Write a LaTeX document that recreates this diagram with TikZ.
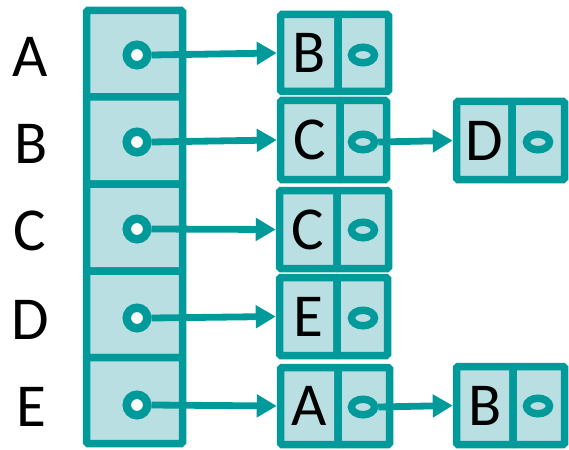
\documentclass[tikz,border=0pt]{standalone}
\usepackage{fontspec}
\setmainfont{Carlito}
\usetikzlibrary{arrows.meta,shapes.geometric}
\definecolor{edge}{HTML}{009A9A}
\definecolor{cellfill}{HTML}{BADFE2}
\begin{document}
\begin{tikzpicture}[x=1pt,y=-1pt,
  cell/.style={draw=edge,fill=cellfill,line width=7.5pt,rounded corners=1.5pt,
    inner sep=0pt,font=\fontsize{61}{63}\selectfont},
  dot/.style={circle,draw=edge,fill=white,line width=8.5pt,minimum size=20.5pt,inner sep=0pt},
  odot/.style={ellipse,draw=edge,line width=7.5pt,minimum width=23pt,minimum height=15.5pt,inner sep=0pt},
  link/.style={draw=edge,line width=6.8pt,-{Triangle[length=20pt,width=22pt]}},
  lbl/.style={font=\fontsize{61}{63}\selectfont}]
\useasboundingbox (0,0) rectangle (569,449);

% index column
\node[cell,minimum width=96pt,minimum height=86.5pt] (a1) at (134.5,53.75) {};
\node[cell,minimum width=96pt,minimum height=87pt] (a2) at (134.5,140.5) {};
\node[cell,minimum width=96pt,minimum height=87pt] (a3) at (134.5,227.5) {};
\node[cell,minimum width=96pt,minimum height=86.5pt] (a4) at (134.5,314.25) {};
\node[cell,minimum width=96pt,minimum height=86pt] (a5) at (134.5,400.5) {};

% row labels
\node[lbl] (lA) at (30,57) {A};
\node[lbl] (lB) at (31,144) {B};
\node[lbl] (lC) at (30,231) {C};
\node[lbl] (lD) at (30,320) {D};
\node[lbl] (lE) at (31,407) {E};

% pointer dots in the index column
\node[dot] (c1) at (137,55) {};
\node[dot] (c2) at (137,142) {};
\node[dot] (c3) at (137,229) {};
\node[dot] (c4) at (137,318) {};
\node[dot] (c5) at (137,405) {};

% list entries: key cell + pointer cell
\node[cell,minimum width=57.5pt,minimum height=77pt] (k1) at (309.25,53) {B};
\node[cell,minimum width=50.5pt,minimum height=77pt] (p1) at (363.25,53) {};
\node[cell,minimum width=59.5pt,minimum height=79pt] (k2) at (310.25,140) {C};
\node[cell,minimum width=46.5pt,minimum height=79pt] (p2) at (363.25,140) {};
\node[cell,minimum width=57.5pt,minimum height=78pt] (k3) at (308.25,229.5) {C};
\node[cell,minimum width=51.5pt,minimum height=78pt] (p3) at (362.75,229.5) {};
\node[cell,minimum width=57.5pt,minimum height=78pt] (k4) at (308.25,316.5) {E};
\node[cell,minimum width=50.5pt,minimum height=78pt] (p4) at (362.25,316.5) {};
\node[cell,minimum width=57.5pt,minimum height=77pt] (k5) at (309.25,406) {A};
\node[cell,minimum width=51.5pt,minimum height=77pt] (p5) at (363.75,406) {};
\node[cell,minimum width=55.5pt,minimum height=78pt] (k6) at (484.25,140.5) {D};
\node[cell,minimum width=52.5pt,minimum height=78pt] (p6) at (538.25,140.5) {};
\node[cell,minimum width=56.5pt,minimum height=78pt] (k7) at (484.75,405.5) {B};
\node[cell,minimum width=51.5pt,minimum height=78pt] (p7) at (538.75,405.5) {};

% next-pointer marks
\node[odot] (o1) at (363,55) {};
\node[odot] (o2) at (363,142) {};
\node[odot] (o3) at (363,230) {};
\node[odot] (o4) at (363,318) {};
\node[odot] (o5) at (363,407) {};
\node[odot] (o6) at (538,142) {};
\node[odot] (o7) at (538,406) {};

% links
\draw[link] (c1.east) -- (k1.west);
\draw[link] (c2.east) -- (k2.west);
\draw[link] (c3.east) -- (k3.west);
\draw[link] (c4.east) -- (k4.west);
\draw[link] (c5.east) -- (k5.west);
\draw[link] (o2.east) -- (k6.west);
\draw[link] (o5.east) -- (k7.west);
\end{tikzpicture}
\end{document}
